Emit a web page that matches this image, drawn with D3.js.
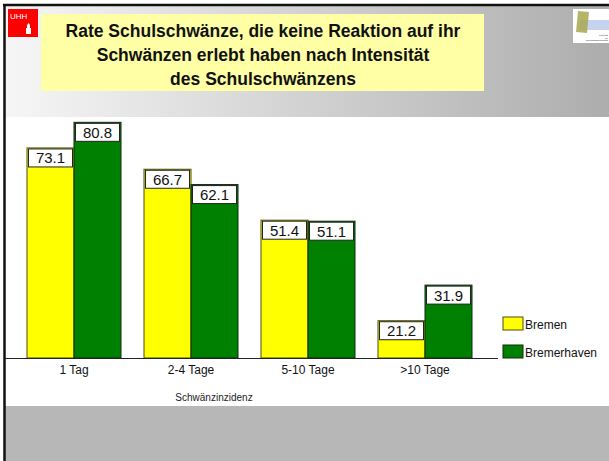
<!DOCTYPE html>
<html>
<head>
<meta charset="utf-8">
<script src="https://cdn.jsdelivr.net/npm/d3@7"></script>
<style>
  body { margin: 0; background: #fff; }
  svg { display: block; font-family: "Liberation Sans", Arial, sans-serif; }
</style>
</head>
<body>
<svg id="chart" width="609" height="461"></svg>
<script>
// Datos del gráfico
var kategorien = ["1 Tag", "2-4 Tage", "5-10 Tage", ">10 Tage"];
var serien = ["Bremen", "Bremerhaven"];
var bremen = [73.1, 66.7, 51.4, 21.2];
var bremerhaven = [80.8, 62.1, 51.1, 31.9];
var farben = ["#ffff00", "#008000"];
var randFarben = ["#4a4a10", "#0f2a0f"];
var titelZeilen = ["Rate Schulschwänze, die keine Reaktion auf ihr",
                   "Schwänzen erlebt haben nach Intensität",
                   "des Schulschwänzens"];
var achsenTitel = "Schwänzinzidenz";

var width = 609, height = 461;
var svg = d3.select("#chart");

// Hintergrund: Kopf mit Verlauf, weiße Fläche, grauer Fuß
var defs = svg.append("defs");
var grad = defs.append("linearGradient").attr("id", "kopf")
  .attr("x1", "0%").attr("x2", "100%").attr("y1", "0%").attr("y2", "0%");
grad.append("stop").attr("offset", "0%").attr("stop-color", "#f6f6f6");
grad.append("stop").attr("offset", "100%").attr("stop-color", "#adadad");

svg.append("rect").attr("x", 0).attr("y", 0).attr("width", width).attr("height", height).attr("fill", "#fff");
svg.append("rect").attr("x", 5).attr("y", 5).attr("width", width - 5).attr("height", 112).attr("fill", "url(#kopf)");
svg.append("rect").attr("x", 5).attr("y", 406).attr("width", width - 5).attr("height", 55).attr("fill", "#b7b7b7");
// Rahmen oben und links
svg.append("line").attr("x1", 3).attr("x2", width).attr("y1", 5).attr("y2", 5).attr("stroke", "#111").attr("stroke-width", 2.5);
svg.append("line").attr("x1", 4.5).attr("x2", 4.5).attr("y1", 4).attr("y2", height).attr("stroke", "#111").attr("stroke-width", 2.5);

// Titelbox
svg.append("rect").attr("x", 41).attr("y", 14).attr("width", 443).attr("height", 77).attr("fill", "#ffffa6");
svg.selectAll(".titel")
  .data(titelZeilen)
  .enter().append("text")
  .attr("class", "titel")
  .attr("x", 263)
  .attr("y", function (d, i) { return 37 + i * 24; })
  .attr("text-anchor", "middle")
  .style("font-size", "17.5px")
  .style("font-weight", "bold")
  .attr("fill", "#111")
  .text(function (d) { return d; });

// Logo links (UHH)
svg.append("rect").attr("x", 8).attr("y", 9).attr("width", 30).attr("height", 28).attr("fill", "#ff0000");
svg.append("text").attr("x", 10).attr("y", 19).attr("fill", "#fff").style("font-size", "8px").text("UHH");
svg.append("path")
  .attr("d", "M26 34 L26 28 L27 28 L27 25 L28.5 23 L30 25 L30 28 L31 28 L31 34 Z")
  .attr("fill", "#fff");

// Logo rechts
svg.append("rect").attr("x", 573).attr("y", 9).attr("width", 36).attr("height", 34).attr("fill", "#fff");
svg.append("rect").attr("x", 580).attr("y", 20).attr("width", 29).attr("height", 10).attr("fill", "#c5d3ee");
svg.append("path").attr("d", "M578 11 L589 12 L587 33 L576 32 Z").attr("fill", "#a8a850").attr("opacity", 0.85);
[["Fakultät", 36], ["für", 38.5], ["Rechtswissenschaft", 41]].forEach(function (t) {
  svg.append("text").attr("x", 608).attr("y", t[1]).attr("text-anchor", "end")
    .style("font-size", "2.5px").attr("fill", "#333").text(t[0]);
});

// Skalen
var x = d3.scaleBand().domain(kategorien).range([15.5, 483.5]).paddingInner(23 / 117).paddingOuter(23 / 234);
var xs = d3.scaleBand().domain(serien).range([0, x.bandwidth()]);
var y = d3.scaleLinear().domain([10, 90]).range([358, 91.7]);

var daten = kategorien.map(function (k, i) {
  return { kat: k, werte: [bremen[i], bremerhaven[i]] };
});

var gruppen = svg.selectAll(".gruppe")
  .data(daten)
  .enter().append("g")
  .attr("class", "gruppe")
  .attr("transform", function (d) { return "translate(" + x(d.kat) + ",0)"; });

var balken = gruppen.selectAll(".balken")
  .data(function (d) { return d.werte.map(function (v, j) { return { serie: serien[j], wert: v, j: j }; }); })
  .enter().append("g");

balken.append("rect")
  .attr("x", function (d) { return xs(d.serie); })
  .attr("y", function (d) { return y(d.wert); })
  .attr("width", xs.bandwidth())
  .attr("height", function (d) { return y(10) - y(d.wert); })
  .attr("fill", function (d) { return farben[d.j]; })
  .attr("stroke", function (d) { return randFarben[d.j]; })
  .attr("stroke-width", 1);

// Wertbeschriftungen in weißen Kästchen
balken.append("rect")
  .attr("x", function (d) { return xs(d.serie) + 1.5; })
  .attr("y", function (d) { return y(d.wert) + 1; })
  .attr("width", xs.bandwidth() - 3)
  .attr("height", 18)
  .attr("fill", "#fff")
  .attr("stroke", "#222")
  .attr("stroke-width", 1);

balken.append("text")
  .attr("x", function (d) { return xs(d.serie) + xs.bandwidth() / 2; })
  .attr("y", function (d) { return y(d.wert) + 15.5; })
  .attr("text-anchor", "middle")
  .style("font-size", "15px")
  .attr("fill", "#111")
  .text(function (d) { return d.wert.toFixed(1); });

// X-Achse
svg.append("line").attr("x1", 5).attr("x2", 498).attr("y1", 358.5).attr("y2", 358.5).attr("stroke", "#222").attr("stroke-width", 1);
svg.selectAll(".kat")
  .data(kategorien)
  .enter().append("text")
  .attr("class", "kat")
  .attr("x", function (d) { return x(d) + x.bandwidth() / 2; })
  .attr("y", 374)
  .attr("text-anchor", "middle")
  .style("font-size", "12px")
  .attr("fill", "#111")
  .text(function (d) { return d; });

svg.append("text")
  .attr("x", 214).attr("y", 401)
  .attr("text-anchor", "middle")
  .style("font-size", "10px")
  .attr("fill", "#222")
  .text(achsenTitel);

// Legende
var legende = svg.selectAll(".leg")
  .data(serien)
  .enter().append("g")
  .attr("class", "leg")
  .attr("transform", function (d, i) { return "translate(503," + (317 + i * 28) + ")"; });
legende.append("rect")
  .attr("width", 20).attr("height", 13)
  .attr("fill", function (d, i) { return farben[i]; })
  .attr("stroke", function (d, i) { return randFarben[i]; });
legende.append("text")
  .attr("x", 22).attr("y", 12)
  .style("font-size", "12px")
  .attr("fill", "#111")
  .text(function (d) { return d; });
</script>
</body>
</html>
